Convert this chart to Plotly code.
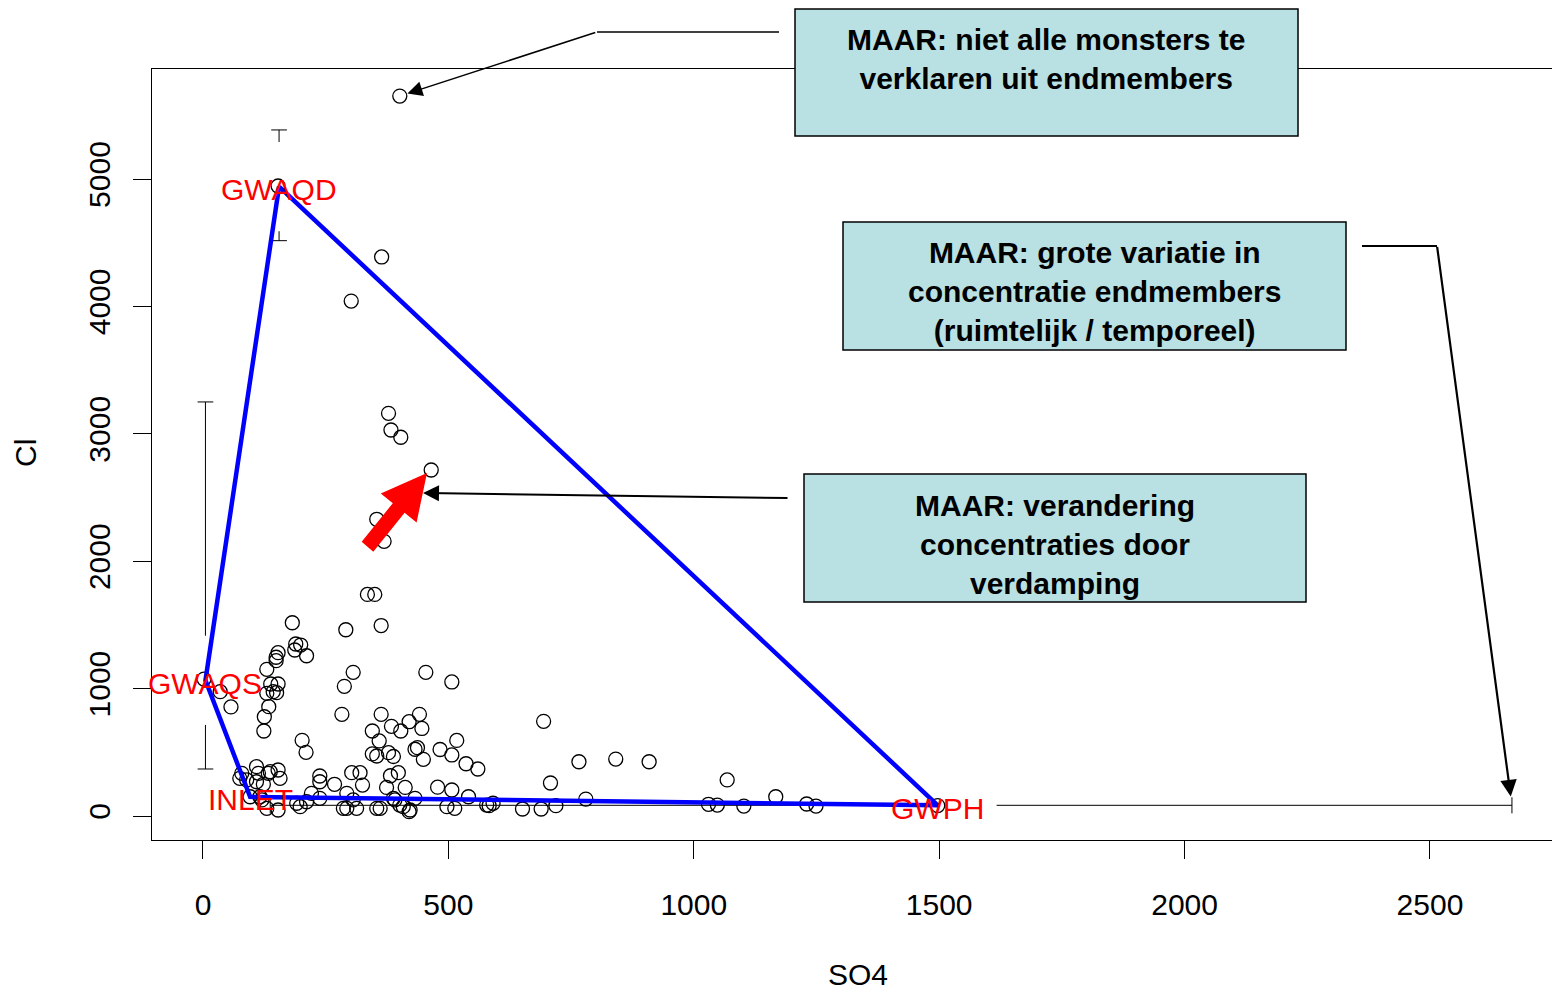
import plotly.graph_objects as go

# ---- sample data: SO4 vs Cl (mg/l) ----
so4 = [401, 364, 302, 378, 383, 403, 465, 354, 369, 335, 350, 182, 291, 363, 189, 199,
       187, 211, 153, 149, 149, 130, 306, 454, 507, 288, 2, 35, 138, 153, 143, 130,
       150, 134, 57, 125, 124, 283, 363, 441, 384, 403, 420, 446, 345, 359, 202, 210,
       517, 483, 507, 536, 560, 437, 432, 449, 345, 354, 378, 388, 303, 320, 325, 382,
       398, 374, 412, 478, 507, 541, 238, 238, 268, 153, 157, 79, 75, 109, 113, 133,
       109, 123, 96, 116, 130, 153, 221, 191, 211, 238, 293, 306, 286, 293, 313, 354,
       388, 408, 422, 432, 497, 513, 578, 591, 694, 766, 841, 909, 708, 780, 361, 391,
       401, 420, 583, 651, 689, 719, 1068, 1030, 1048, 1102, 1167, 1230, 1249, 1497, 153,
       89, 120, 137, 198]
cl = [5651, 4388, 4042, 3161, 3030, 2973, 2716, 2329, 2156, 1739, 1739, 1517, 1462, 1495, 1350, 1342,
      1303, 1258, 1282, 1246, 1219, 1151, 1128, 1128, 1052, 1018, 1075, 976, 1036, 1036, 976, 963,
      968, 858, 856, 779, 667, 798, 798, 798, 704, 667, 740, 687, 667, 589, 594, 500,
      593, 522, 479, 410, 369, 536, 524, 445, 487, 471, 497, 467, 340, 340, 243, 316,
      340, 224, 224, 226, 204, 151, 314, 269, 249, 361, 296, 335, 296, 387, 335, 335,
      269, 249, 151, 151, 60, 47, 178, 100, 112, 139, 178, 126, 60, 60, 60, 60,
      139, 73, 47, 139, 73, 60, 86, 100, 743, 426, 447, 426, 259, 133, 60, 126,
      86, 34, 81, 55, 55, 81, 283, 92, 86, 78, 151, 94, 78, 82, 4945,
      283, 126, 348, 73]

# ---- endmembers (polygon order) ----
em_names = ["GWAQD", "GWPH", "INLET", "GWAQS"]
em_so4 = [155, 1497, 96, 5]
em_cl = [4940, 84, 150, 1065]

# spread of the endmembers (low / high)
cl_spread = {"GWAQD": (4516, 5385), "GWAQS": (369, 3250)}
so4_spread = {"GWPH": (137, 2667)}

FONT = "Liberation Sans, Arial, sans-serif"
W, H = 1552, 992
L, T, B, R = 152, 69, 840, 1552     # plot-area edges (page pixels)
XR = [-103.9, 2748.6]
YR = [-188.4, 5863.4]


def fx(px):
    return (px - L) / (R - L)


def fy(py):
    return (B - py) / (B - T)


fig = go.Figure()

# sample points
fig.add_trace(go.Scatter(
    x=so4, y=cl, mode="markers",
    marker=dict(symbol="circle-open", size=14, color="black", line=dict(width=1.3)),
    hoverinfo="x+y", showlegend=False))

# spread bars with a gap around the endmember
GAP_CL, GAP_SO4 = 350, 120
CAP_X, CAP_Y = 16, 63
ex, ey = [], []
for i, name in enumerate(em_names):
    x0, y0 = em_so4[i], em_cl[i]
    if name in cl_spread:
        lo, hi = cl_spread[name]
        ex += [x0, x0, None, x0, x0, None, x0 - CAP_X, x0 + CAP_X, None, x0 - CAP_X, x0 + CAP_X, None]
        ey += [hi, y0 + GAP_CL, None, y0 - GAP_CL, lo, None, hi, hi, None, lo, lo, None]
    if name in so4_spread:
        lo, hi = so4_spread[name]
        ex += [lo, x0 - GAP_SO4, None, x0 + GAP_SO4, hi, None, lo, lo, None, hi, hi, None]
        ey += [y0, y0, None, y0, y0, None, y0 - CAP_Y, y0 + CAP_Y, None, y0 - CAP_Y, y0 + CAP_Y, None]
fig.add_trace(go.Scatter(x=ex, y=ey, mode="lines", line=dict(color="black", width=1),
                         hoverinfo="skip", showlegend=False))

# mixing polygon
fig.add_trace(go.Scatter(
    x=em_so4 + [em_so4[0]], y=em_cl + [em_cl[0]], mode="lines",
    line=dict(color="#0000FF", width=4.5), hoverinfo="skip", showlegend=False))

annotations = []
for i, name in enumerate(em_names):
    annotations.append(dict(x=em_so4[i], y=em_cl[i], xref="x", yref="y", text=name,
                            showarrow=False, yshift=-3,
                            font=dict(family=FONT, size=30, color="#FF0000")))

# comment boxes
boxes = [
    dict(text="MAAR: niet alle monsters te<br>verklaren uit endmembers",
         x0=795, x1=1298, y0=9, y1=136, tx=1046, ty=59),
    dict(text="MAAR: grote variatie in<br>concentratie endmembers<br>(ruimtelijk / temporeel)",
         x0=843, x1=1346, y0=222, y1=350, tx=1094, ty=291),
    dict(text="MAAR: verandering<br>concentraties door<br>verdamping",
         x0=804, x1=1306, y0=474, y1=602, tx=1055, ty=544),
]
shapes = []
for b in boxes:
    shapes.append(dict(type="rect", xref="paper", yref="paper",
                       x0=fx(b["x0"]), x1=fx(b["x1"]), y0=fy(b["y1"]), y1=fy(b["y0"]),
                       fillcolor="#B9E0E3", line=dict(color="black", width=1.5), layer="above"))
    annotations.append(dict(x=fx(b["tx"]), y=fy(b["ty"]), xref="paper", yref="paper",
                            text="<b>" + b["text"] + "</b>", showarrow=False,
                            xanchor="center", yanchor="middle",
                            font=dict(family=FONT, size=30, color="black")))

# leader lines
shapes.append(dict(type="path", xref="paper", yref="paper",
                   path=f"M{fx(779)},{fy(32)} L{fx(597)},{fy(32)}",
                   line=dict(color="black", width=1.5), layer="above"))
shapes.append(dict(type="path", xref="paper", yref="paper",
                   path=f"M{fx(1362)},{fy(246)} L{fx(1437)},{fy(246)}",
                   line=dict(color="black", width=2.2), layer="above"))

# arrows
annotations.append(dict(x=so4[0], y=cl[0], xref="x", yref="y", ax=197, ay=-64,
                        showarrow=True, arrowhead=2, arrowsize=2, arrowwidth=1.5,
                        standoff=8, arrowcolor="black", text=""))
annotations.append(dict(x=so4_spread["GWPH"][1], y=em_cl[1], xref="x", yref="y", ax=-75, ay=-560,
                        showarrow=True, arrowhead=2, arrowsize=1.5, arrowwidth=2.2,
                        standoff=9, arrowcolor="black", text=""))
annotations.append(dict(x=fx(423), y=fy(493), xref="paper", yref="paper", ax=366, ay=5,
                        showarrow=True, arrowhead=2, arrowsize=1.6, arrowwidth=2,
                        arrowcolor="black", text=""))

# red block arrow
red_pts = [(427, 473), (416.6, 522.4), (404.6, 512.8), (373.3, 551.7),
           (361.7, 541.7), (392.8, 503.2), (380.8, 493.6)]
shapes.append(dict(type="path", xref="paper", yref="paper",
                   path="M" + " L".join(f"{fx(a)},{fy(b)}" for a, b in red_pts) + " Z",
                   fillcolor="#FF0000", line=dict(width=0), layer="above"))

# axis titles
annotations.append(dict(x=fx(858), y=fy(974), xref="paper", yref="paper", text="SO4",
                        xanchor="center", yanchor="middle", showarrow=False,
                        font=dict(family=FONT, size=30, color="black")))
annotations.append(dict(x=fx(25), y=fy(453), xref="paper", yref="paper", text="Cl",
                        xanchor="center", yanchor="middle", textangle=-90, showarrow=False,
                        font=dict(family=FONT, size=30, color="black")))

axis_common = dict(showgrid=False, zeroline=False, ticks="outside", ticklen=18,
                   tickwidth=1, tickcolor="black", showline=True, linecolor="black",
                   linewidth=1, tickfont=dict(family=FONT, size=30, color="black"))

fig.update_layout(
    width=W, height=H, autosize=False,
    margin=dict(l=L, r=W - R, t=T, b=H - B, pad=0),
    paper_bgcolor="white", plot_bgcolor="white",
    xaxis=dict(range=XR, tickvals=[0, 500, 1000, 1500, 2000, 2500], mirror=True,
               ticklabelstandoff=20, **axis_common),
    yaxis=dict(range=YR, tickvals=[0, 1000, 2000, 3000, 4000, 5000], mirror=False,
               tickangle=-90, ticklabelstandoff=11, **axis_common),
    shapes=shapes, annotations=annotations, showlegend=False,
)

fig.write_html("out.html")
